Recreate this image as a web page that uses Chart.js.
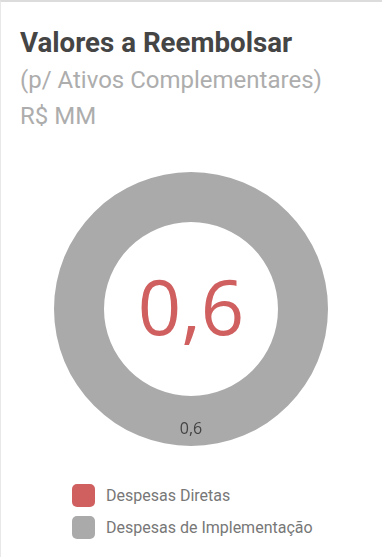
<!DOCTYPE html>
<html>
<head>
<meta charset="utf-8">
<script src="https://cdn.jsdelivr.net/npm/chart.js@4"></script>
<style>
  html, body { margin: 0; padding: 0; background: #fff; }
  body { width: 382px; height: 557px; overflow: hidden; position: relative; font-family: Roboto, sans-serif; }
  .card { position: absolute; left: 0; top: 0; width: 382px; height: 557px; border-top: 2px solid #dcdcdc; border-left: 1px solid #e8e8e8; box-sizing: border-box; }
  .titulo { position: absolute; left: 19px; top: 24px; font-size: 27.7px; font-weight: bold; color: #454545; white-space: nowrap; }
  .sub { position: absolute; left: 19px; font-size: 24px; color: #adadad; white-space: nowrap; }
  #grafico { position: absolute; left: -1px; top: 170px; }
  .legenda { position: absolute; left: 71px; top: 477px; list-style: none; margin: 0; padding: 0; }
  .legenda li { display: flex; align-items: center; height: 32px; font-size: 16px; color: #777; }
  .legenda span.caixa { width: 23px; height: 23px; border-radius: 5px; margin-right: 11px; }
</style>
</head>
<body>
<div class="card">
  <div class="titulo">Valores a Reembolsar</div>
  <div class="sub" style="top: 64px;">(p/ Ativos Complementares)</div>
  <div class="sub" style="top: 100px;">R$ MM</div>
  <canvas id="grafico" width="382" height="274"></canvas>
  <ul class="legenda" id="legenda"></ul>
</div>
<script>
// categorias e valores (R$ MM)
const categorias = ['Despesas Diretas', 'Despesas de Implementação'];
const valores = [0, 0.6];
const cores = ['#d05f5f', '#aaaaaa'];

const fmt = v => v.toLocaleString('pt-BR', { minimumFractionDigits: 1, maximumFractionDigits: 1 });

// total no centro + rótulo do valor em cada fatia
const textoDoughnut = {
  id: 'textoDoughnut',
  afterDatasetsDraw(chart) {
    const ctx = chart.ctx;
    const meta = chart.getDatasetMeta(0);
    const arc = meta.data[0];
    const total = valores.reduce((a, b) => a + b, 0);
    ctx.save();
    ctx.textAlign = 'center';
    ctx.textBaseline = 'middle';
    ctx.fillStyle = '#d05f5f';
    ctx.font = '76px "Open Sans"';
    ctx.fillText(fmt(total), arc.x, arc.y + 4);
    ctx.fillStyle = '#444';
    ctx.font = '16px "Open Sans"';
    meta.data.forEach((el, i) => {
      if (!valores[i]) return;
      const p = el.tooltipPosition();
      ctx.fillText(fmt(valores[i]), p.x, p.y + 8);
    });
    ctx.restore();
  }
};

const chart = new Chart(document.getElementById('grafico').getContext('2d'), {
  type: 'doughnut',
  data: {
    labels: categorias,
    datasets: [{
      data: valores,
      backgroundColor: cores,
      borderWidth: 0
    }]
  },
  options: {
    responsive: false,
    animation: false,
    cutout: '63.5%',
    plugins: {
      legend: { display: false },
      tooltip: { enabled: false }
    }
  },
  plugins: [textoDoughnut]
});

// legenda em coluna
const ul = document.getElementById('legenda');
chart.options.plugins.legend.labels.generateLabels(chart).forEach(item => {
  const li = document.createElement('li');
  const caixa = document.createElement('span');
  caixa.className = 'caixa';
  caixa.style.background = item.fillStyle;
  li.appendChild(caixa);
  li.appendChild(document.createTextNode(item.text));
  ul.appendChild(li);
});
</script>
</body>
</html>
